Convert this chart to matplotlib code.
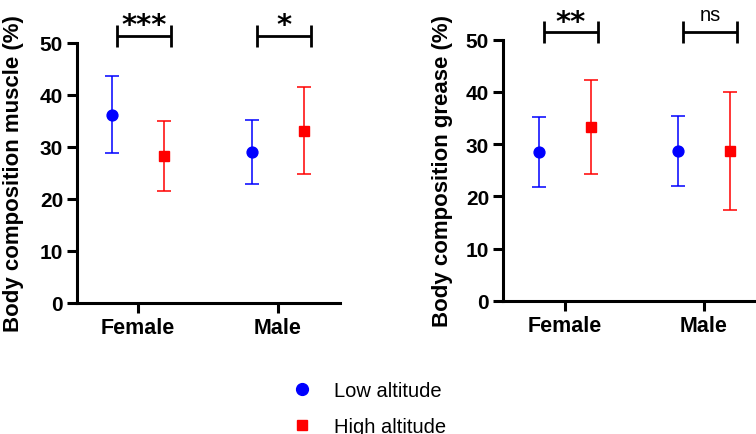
import matplotlib
matplotlib.use("Agg")
import matplotlib.pyplot as plt
from matplotlib.lines import Line2D

plt.rcParams['font.family'] = ['Liberation Sans', 'DejaVu Sans']

groups = ["Female", "Male"]
series = ["Low altitude", "High altitude"]
colors = ["#0000FF", "#FF0000"]
markers = ["o", "s"]

muscle_mean = {"Low altitude": [36.2, 29.0], "High altitude": [28.3, 33.1]}
muscle_sd = {"Low altitude": [7.45, 6.15], "High altitude": [6.7, 8.35]}
grease_mean = {"Low altitude": [28.5, 28.7], "High altitude": [33.3, 28.7]}
grease_sd = {"Low altitude": [6.65, 6.7], "High altitude": [9.0, 11.3]}

muscle_sig = ["***", "*"]
grease_sig = ["**", "ns"]

yticks = [0, 10, 20, 30, 40, 50]

fig = plt.figure(figsize=(7.56, 4.35), dpi=100)
W, H = 756, 435

def px_axes(x0, x1, ybot, ytop):
    return fig.add_axes([x0 / W, (H - ybot) / H, (x1 - x0) / W, (ybot - ytop) / H])

ax1 = px_axes(77, 340, 304, 44)
ax2 = px_axes(503, 756, 301.7, 40.7)

offset = 0.186

def draw(ax, means, sds, sigs, ylabel, xlim):
    for i, s in enumerate(series):
        xs = [g + (-offset if i == 0 else offset) for g in range(len(groups))]
        ax.errorbar(xs, means[s], yerr=sds[s], fmt=markers[i], color=colors[i],
                    ecolor=colors[i], elinewidth=1.1, capsize=5, capthick=1.1,
                    markersize=7.8 if i == 0 else 7.4, zorder=3, clip_on=False)
    ax.set_xlim(*xlim)
    ax.set_ylim(0, 50)
    ax.set_yticks(yticks)
    ax.set_xticks(range(len(groups)))
    ax.set_xticklabels(groups, fontsize=15.5, fontweight='bold')
    ax.set_yticklabels([str(t) for t in yticks], fontsize=15, fontweight='bold')
    for sp in ['top', 'right']:
        ax.spines[sp].set_visible(False)
    for sp in ['left', 'bottom']:
        ax.spines[sp].set_linewidth(2.2)
    ax.tick_params(axis='both', width=2.2, length=7, direction='out', pad=3)
    ax.set_ylabel(ylabel, fontsize=16, fontweight='bold')
    # significance brackets
    for g, sig in enumerate(sigs):
        xa, xb = g - 0.15, g + 0.237
        ybar = 51.4
        ax.plot([xa, xb], [ybar, ybar], color='black', lw=2.0, clip_on=False,
                solid_capstyle='butt')
        for xv in (xa, xb):
            ax.plot([xv, xv], [49.3, 53.5], color='black', lw=2.0, clip_on=False,
                    solid_capstyle='butt')
        xc = (xa + xb) / 2
        if sig == 'ns':
            ax.text(xc, 53.7, sig, ha='center', va='baseline', fontsize=14.5,
                    clip_on=False)
        else:
            ax.text(xc, 51.9, sig, ha='center', va='baseline', fontsize=21,
                    fontweight='bold', family='DejaVu Sans', clip_on=False)

draw(ax1, muscle_mean, muscle_sd, muscle_sig, "Body composition muscle (%)", (-0.436, 1.443))
draw(ax2, grease_mean, grease_sd, grease_sig, "Body composition grease (%)", (-0.446, 1.374))
ax1.yaxis.set_label_coords((24 - 77) / (340 - 77), 0.5)
ax2.yaxis.set_label_coords((453 - 503) / (756 - 503), 0.5)

handles = [Line2D([], [], linestyle='none', marker=markers[i], color=colors[i],
                  markersize=8.5 if i == 0 else 7.5) for i in range(2)]
fig.legend(handles, series, loc='upper left', bbox_to_anchor=(292 / W, 1 - 382 / H),
           frameon=False, fontsize=14.5, handletextpad=1.1, labelspacing=0.85,
           handlelength=1.0, borderpad=0, borderaxespad=0)

fig.savefig("out.png", dpi=100)
